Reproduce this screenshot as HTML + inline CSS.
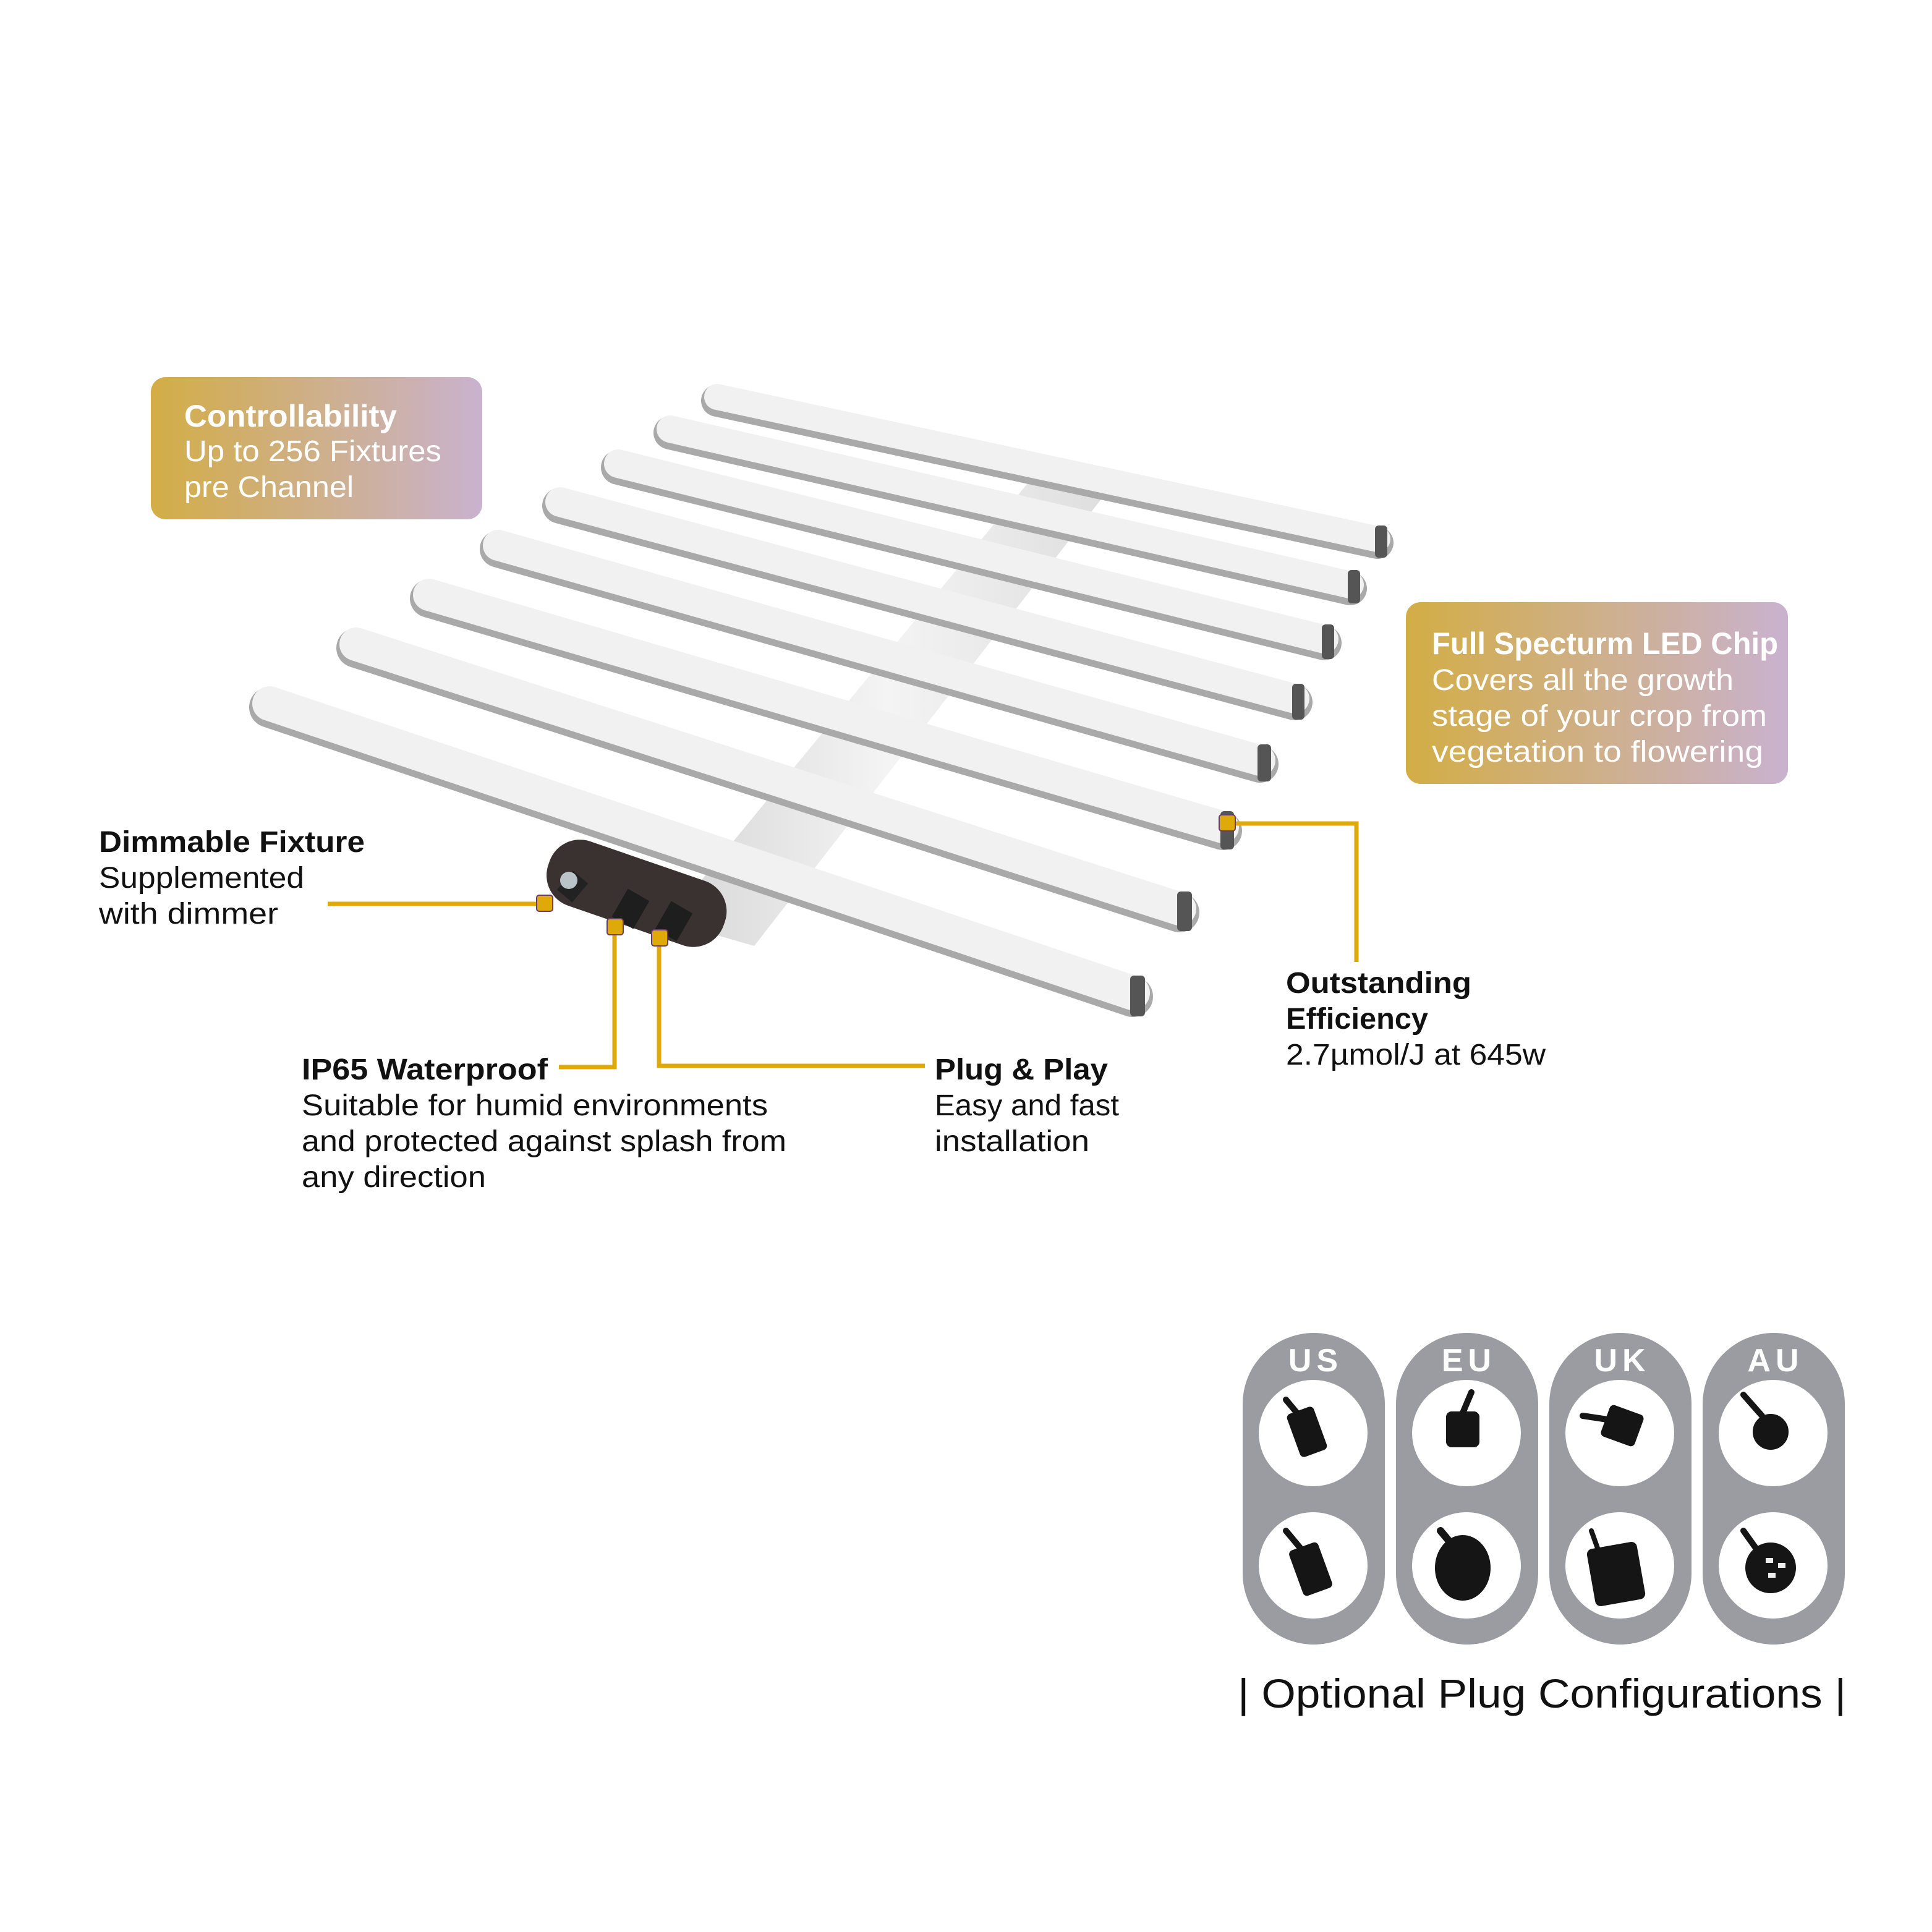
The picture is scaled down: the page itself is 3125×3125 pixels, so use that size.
<!DOCTYPE html>
<html><head><meta charset="utf-8"><style>
html,body{margin:0;padding:0;background:#fff}
svg{display:block}
text{font-family:"Liberation Sans","DejaVu Sans",sans-serif}
</style></head><body>
<svg width="3125" height="3125" viewBox="0 0 1562.5 1562.5" xmlns="http://www.w3.org/2000/svg">
<defs>
<linearGradient id="cb" x1="0" x2="1" y1="0" y2="0"><stop offset="0" stop-color="#d3ad45"/><stop offset="1" stop-color="#c9b2cf"/></linearGradient>
<linearGradient id="spine" x1="0" x2="1" y1="0" y2="0"><stop offset="0" stop-color="#d6d6d6"/><stop offset="0.5" stop-color="#f4f4f4"/><stop offset="1" stop-color="#dedede"/></linearGradient>
</defs>
<rect width="1562.5" height="1562.5" fill="#fff"/>

<!-- spine -->
<polygon points="840,380 895,398 610,765 540,745" fill="url(#spine)"/>
<!-- bars -->
<g stroke-linecap="round">
<line x1="580" y1="324" x2="1114" y2="439" stroke="#a9a9a9" stroke-width="26"/>
<line x1="580" y1="321" x2="1114" y2="436" stroke="#f1f1f1" stroke-width="21"/>
<line x1="542" y1="350" x2="1092" y2="476" stroke="#a9a9a9" stroke-width="27"/>
<line x1="542" y1="347" x2="1092" y2="473" stroke="#f1f1f1" stroke-width="22"/>
<line x1="500" y1="378" x2="1071" y2="520" stroke="#a9a9a9" stroke-width="28"/>
<line x1="500" y1="375" x2="1071" y2="517" stroke="#f1f1f1" stroke-width="23"/>
<line x1="453" y1="409" x2="1047" y2="568" stroke="#a9a9a9" stroke-width="29"/>
<line x1="453" y1="406" x2="1047" y2="565" stroke="#f1f1f1" stroke-width="24"/>
<line x1="403" y1="444" x2="1019" y2="618" stroke="#a9a9a9" stroke-width="30"/>
<line x1="403" y1="441" x2="1019" y2="615" stroke="#f1f1f1" stroke-width="25"/>
<line x1="347" y1="484" x2="989" y2="672" stroke="#a9a9a9" stroke-width="31"/>
<line x1="347" y1="481" x2="989" y2="669" stroke="#f1f1f1" stroke-width="26"/>
<line x1="288" y1="524" x2="954" y2="738" stroke="#a9a9a9" stroke-width="32"/>
<line x1="288" y1="521" x2="954" y2="735" stroke="#f1f1f1" stroke-width="27"/>
<line x1="218" y1="572" x2="916" y2="806" stroke="#a9a9a9" stroke-width="33"/>
<line x1="218" y1="569" x2="916" y2="803" stroke="#f1f1f1" stroke-width="28"/>
</g>
<!-- end caps -->
<g fill="#555">
<rect x="1112" y="425" width="10" height="26" rx="3"/><rect x="1090" y="461" width="10" height="27" rx="3"/>
<rect x="1069" y="505" width="10" height="28" rx="3"/><rect x="1045" y="553" width="10" height="29" rx="3"/>
<rect x="1017" y="602" width="11" height="30" rx="3"/><rect x="987" y="656" width="11" height="31" rx="3"/>
<rect x="952" y="721" width="12" height="32" rx="3"/><rect x="914" y="789" width="12" height="33" rx="3"/>
</g>
<!-- control box -->
<g transform="rotate(19 515 722)">
<rect x="440" y="695" width="150" height="55" rx="26" fill="#3a3230"/>
</g>
<rect x="455" y="707" width="16" height="20" fill="#222" transform="rotate(40 463 717)"/>
<circle cx="460" cy="712" r="7" fill="#b9c3c8"/>
<rect x="500" y="722" width="20" height="26" fill="#1e1e1e" transform="rotate(30 510 735)"/>
<rect x="535" y="732" width="20" height="26" fill="#1e1e1e" transform="rotate(30 545 745)"/>

<!-- yellow connectors -->
<g stroke="#e0a90a" stroke-width="3.5" fill="none">
<polyline points="265,731 440,731"/>
<polyline points="452,863 497,863 497,750"/>
<polyline points="533,758 533,862 748,862"/>
<polyline points="992,666 1097,666 1097,778"/>
</g>
<g fill="#e0a90a" stroke="#6b3a6b" stroke-width="1">
<rect x="434" y="724" width="13" height="13" rx="2"/>
<rect x="491" y="743" width="13" height="13" rx="2"/>
<rect x="527" y="752" width="13" height="13" rx="2"/>
<rect x="986" y="659" width="13" height="13" rx="2"/>
</g>

<!-- callout boxes -->
<rect x="122" y="305" width="268" height="115" rx="12" fill="url(#cb)"/>
<text x="149" y="345" font-size="25" font-weight="bold" fill="#fff" textLength="172" lengthAdjust="spacingAndGlyphs">Controllability</text>
<text x="149" y="373" font-size="24" fill="#fff" textLength="208" lengthAdjust="spacingAndGlyphs">Up to 256 Fixtures</text>
<text x="149" y="402" font-size="24" fill="#fff" textLength="137" lengthAdjust="spacingAndGlyphs">pre Channel</text>
<rect x="1137" y="487" width="309" height="147" rx="12" fill="url(#cb)"/>
<text x="1158" y="529" font-size="25" font-weight="bold" fill="#fff" textLength="280" lengthAdjust="spacingAndGlyphs">Full Specturm LED Chip</text>
<text x="1158" y="558" font-size="24" fill="#fff" textLength="244" lengthAdjust="spacingAndGlyphs">Covers all the growth</text>
<text x="1158" y="587" font-size="24" fill="#fff" textLength="271" lengthAdjust="spacingAndGlyphs">stage of your crop from</text>
<text x="1158" y="616" font-size="24" fill="#fff" textLength="268" lengthAdjust="spacingAndGlyphs">vegetation to flowering</text>

<!-- labels -->
<g font-size="24" fill="#111" lengthAdjust="spacingAndGlyphs">
<text x="80" y="689" font-weight="bold" textLength="215" lengthAdjust="spacingAndGlyphs">Dimmable Fixture</text>
<text x="80" y="718" textLength="166" lengthAdjust="spacingAndGlyphs">Supplemented</text>
<text x="80" y="747" textLength="145" lengthAdjust="spacingAndGlyphs">with dimmer</text>
<text x="244" y="873" font-weight="bold" textLength="199" lengthAdjust="spacingAndGlyphs">IP65 Waterproof</text>
<text x="244" y="902" textLength="377" lengthAdjust="spacingAndGlyphs">Suitable for humid environments</text>
<text x="244" y="931" textLength="392" lengthAdjust="spacingAndGlyphs">and protected against splash from</text>
<text x="244" y="960" textLength="149" lengthAdjust="spacingAndGlyphs">any direction</text>
<text x="756" y="873" font-weight="bold" textLength="140" lengthAdjust="spacingAndGlyphs">Plug &amp; Play</text>
<text x="756" y="902" textLength="149" lengthAdjust="spacingAndGlyphs">Easy and fast</text>
<text x="756" y="931" textLength="125" lengthAdjust="spacingAndGlyphs">installation</text>
<text x="1040" y="803" font-weight="bold" textLength="150" lengthAdjust="spacingAndGlyphs">Outstanding</text>
<text x="1040" y="832" font-weight="bold" textLength="115" lengthAdjust="spacingAndGlyphs">Efficiency</text>
<text x="1040" y="861" textLength="210" lengthAdjust="spacingAndGlyphs">2.7µmol/J at 645w</text>
</g>

<!-- plug pills -->
<g fill="#9b9ca1">
<rect x="1005" y="1078" width="115" height="252" rx="57.5"/>
<rect x="1129" y="1078" width="115" height="252" rx="57.5"/>
<rect x="1253" y="1078" width="115" height="252" rx="57.5"/>
<rect x="1377" y="1078" width="115" height="252" rx="57.5"/>
</g>
<g font-size="26" font-weight="bold" fill="#fff" text-anchor="middle" letter-spacing="4">
<text x="1064" y="1109">US</text><text x="1188" y="1109">EU</text><text x="1312" y="1109">UK</text><text x="1436" y="1109">AU</text>
</g>
<g fill="#fff">
<ellipse cx="1062" cy="1159" rx="44" ry="43"/><ellipse cx="1062" cy="1266" rx="44" ry="43"/>
<ellipse cx="1186" cy="1159" rx="44" ry="43"/><ellipse cx="1186" cy="1266" rx="44" ry="43"/>
<ellipse cx="1310" cy="1159" rx="44" ry="43"/><ellipse cx="1310" cy="1266" rx="44" ry="43"/>
<ellipse cx="1434" cy="1159" rx="44" ry="43"/><ellipse cx="1434" cy="1266" rx="44" ry="43"/>
</g>
<!-- plug icons -->
<g fill="#151515" stroke="#151515" stroke-linecap="round">
<line x1="1040" y1="1132" x2="1055" y2="1150" stroke-width="5"/>
<rect x="1046" y="1140" width="22" height="36" rx="3" transform="rotate(-20 1057 1158)"/>
<line x1="1190" y1="1126" x2="1182" y2="1145" stroke-width="5"/>
<rect x="1170" y="1142" width="26" height="28" rx="4"/>
<line x1="1280" y1="1145" x2="1300" y2="1148" stroke-width="5"/>
<rect x="1298" y="1140" width="28" height="26" rx="3" transform="rotate(20 1312 1153)"/>
<line x1="1410" y1="1128" x2="1425" y2="1145" stroke-width="5"/>
<ellipse cx="1432" cy="1158" rx="14" ry="14"/>
<line x1="1040" y1="1238" x2="1055" y2="1256" stroke-width="5"/>
<rect x="1048" y="1250" width="24" height="38" rx="3" transform="rotate(-20 1060 1269)"/>
<line x1="1165" y1="1238" x2="1175" y2="1250" stroke-width="6"/>
<ellipse cx="1183" cy="1268" rx="22" ry="26"/>
<line x1="1287" y1="1238" x2="1292" y2="1252" stroke-width="4"/>
<rect x="1287" y="1250" width="40" height="46" rx="4" transform="rotate(-10 1307 1273)"/>
<line x1="1410" y1="1238" x2="1420" y2="1252" stroke-width="5"/>
<circle cx="1432" cy="1268" r="20"/>
</g>
<g fill="#eee">
<rect x="1428" y="1260" width="6" height="4"/><rect x="1438" y="1264" width="6" height="4"/><rect x="1430" y="1272" width="6" height="4"/>
</g>
<text x="1001" y="1381" font-size="33" fill="#111" textLength="492" lengthAdjust="spacingAndGlyphs">| Optional Plug Configurations |</text>
</svg>
</body></html>
